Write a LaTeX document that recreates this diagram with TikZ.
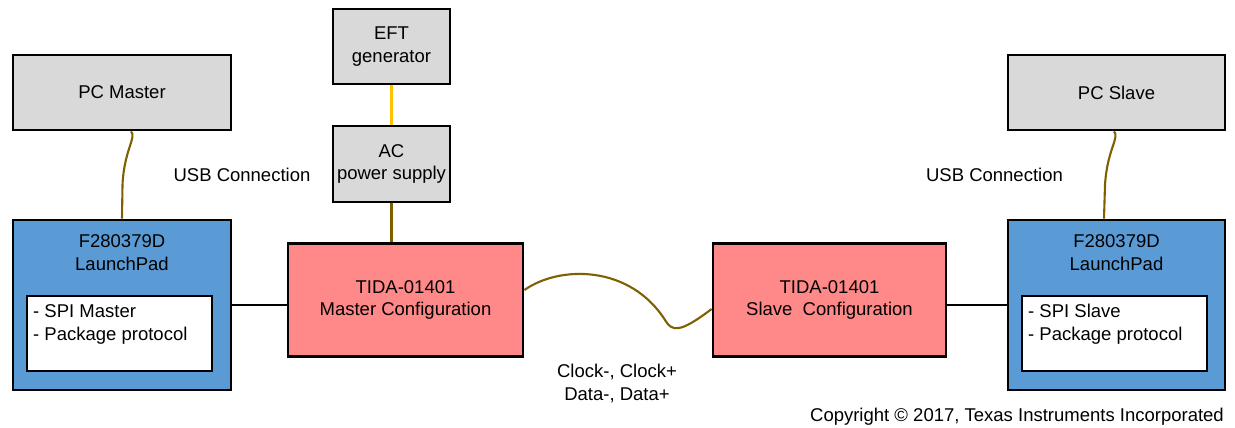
\documentclass[tikz,border=0pt]{standalone}
\usepackage{fontspec}
\setmainfont{Liberation Sans}
\definecolor{boxgray}{HTML}{D9D9D9}
\definecolor{boxblue}{HTML}{5B9BD5}
\definecolor{boxpink}{HTML}{FF8989}
\definecolor{cablebrown}{HTML}{7F6000}
\definecolor{feedyellow}{HTML}{FFC000}
\begin{document}
\begin{tikzpicture}[x=1pt,y=-1pt,
  every node/.style={font=\fontsize{18.5}{22.5}\selectfont, inner sep=0pt},
  basebox/.style={draw=black, line width=2.8pt, rectangle},
  graybox/.style={basebox, fill=boxgray, align=center},
  bluebox/.style={basebox, fill=boxblue},
  pinkbox/.style={basebox, fill=boxpink, align=center},
  whitebox/.style={basebox, fill=white},
  txt/.style={align=center},
  listtxt/.style={align=left},
  usb/.style={draw=cablebrown, line width=2.1pt},
  wire/.style={draw=black, line width=2.1pt},
  feed/.style={draw=feedyellow, line width=2.1pt}
]
\useasboundingbox (0,0) rectangle (1235,428);

% boxes
\node[graybox, minimum width=218, minimum height=75] (pcm) at (122,92.5) {PC Master};
\node[bluebox, minimum width=218, minimum height=170] (lpm) at (122,305) {};
\node[whitebox, minimum width=185, minimum height=75] (inm) at (119.5,333.5) {};
\node[graybox, minimum width=117, minimum height=75] (eft) at (391.5,46.5) {EFT\\generator};
\node[graybox, minimum width=117, minimum height=76] (ac) at (391.5,164) {AC\\power supply};
\node[pinkbox, minimum width=235, minimum height=113] (mst) at (405.5,300) {TIDA-01401\\Master Configuration};
\node[pinkbox, minimum width=233, minimum height=113] (slv) at (829.5,300) {TIDA-01401\\Slave\ \ Configuration};
\node[graybox, minimum width=217, minimum height=75] (pcs) at (1116.5,92.5) {PC Slave};
\node[bluebox, minimum width=217, minimum height=170] (lps) at (1116.5,305) {};
\node[whitebox, minimum width=185, minimum height=75] (ins) at (1114.5,333.5) {};

% texts inside launchpads (base = last line)
\node[txt, anchor=base] (lpmt) at (122,270) {F280379D\\LaunchPad};
\node[listtxt, anchor=base west] (inmt) at (33,340) {- SPI Master\\- Package protocol};
\node[txt, anchor=base] (lpst) at (1116.5,270) {F280379D\\LaunchPad};
\node[listtxt, anchor=base west] (inst) at (1028,340) {- SPI Slave\\- Package protocol};

% labels
\node[txt, anchor=base] (usbl) at (242,181) {USB Connection};
\node[txt, anchor=base] (usbr) at (994.5,181) {USB Connection};
\node[txt, anchor=base] (clk) at (617,400) {Clock-, Clock+\\Data-, Data+};
\node[anchor=base east] (copy) at (1224,421) {Copyright \textcopyright{} 2017, Texas Instruments Incorporated};

% connectors
\draw[feed] (eft.south) -- (ac.north);
\draw[usb] (ac.south) -- (ac.south |- mst.north);
\draw[wire] (lpm.east) -- (lpm.east -| mst.west);
\draw[wire] (lps.west -| slv.east) -- (lps.west);
\draw[usb] ([xshift=9pt]pcm.south) .. controls (137,137) and (124,150) .. (122.5,185) -- (lpm.north);
\draw[usb] ([xshift=-2.5pt]pcs.south) .. controls (1120,137) and (1107,150) .. (1105,185) -- ([xshift=-12.5pt]lps.north);
\draw[usb] ([yshift=10pt]mst.east) .. controls (560,265) and (630,265) .. (665,320)
   .. controls (672,332) and (680,333) .. ([yshift=-9pt]slv.west);
\end{tikzpicture}
\end{document}
